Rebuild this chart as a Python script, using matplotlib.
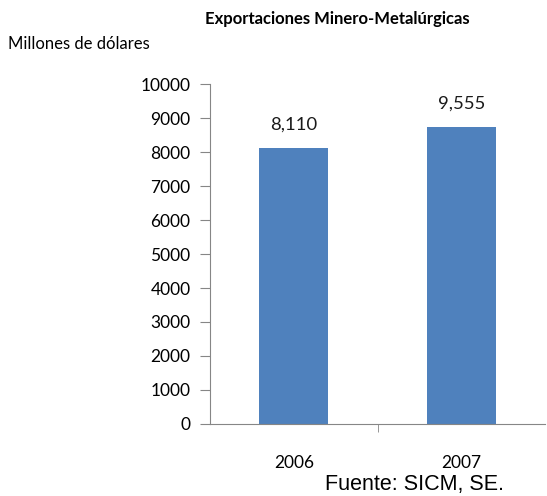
import matplotlib
matplotlib.use("Agg")
import matplotlib.pyplot as plt
from matplotlib.ticker import FixedLocator, NullFormatter

categories = ["2006", "2007"]
bar_values = [8118, 8735]
value_labels = ["8,110", "9,555"]
yticks = [0, 1000, 2000, 3000, 4000, 5000, 6000, 7000, 8000, 9000, 10000]

W, H = 547, 496
fig = plt.figure(figsize=(W/100, H/100), dpi=100)
ax = fig.add_axes([210/W, 1-424/H, (545-210)/W, (424-84)/H])

font = "Lato"
x = list(range(len(categories)))
ax.bar(x, bar_values, width=0.41, color="#4F81BD", zorder=2)
for xi, v, lab in zip(x, bar_values, value_labels):
    ax.text(xi, v + 450, lab, ha="center", va="bottom", fontsize=13.3, family=font, color="#1a1a1a")

ax.set_xlim(-0.5, 1.5)
ax.set_ylim(0, 10000)
ax.set_yticks(yticks)
ax.set_yticklabels([str(t) for t in yticks], family=font, fontsize=12.5)
ax.set_xticks(x)
ax.set_xticklabels(categories, family=font, fontsize=12.5)
ax.tick_params(axis="x", length=0, pad=22)
ax.xaxis.set_minor_locator(FixedLocator([0.5]))
ax.xaxis.set_minor_formatter(NullFormatter())
ax.tick_params(axis="x", which="minor", length=6, color="#868686")
ax.tick_params(axis="y", length=7, color="#868686", pad=7)
for s in ["top", "right"]:
    ax.spines[s].set_visible(False)
for s in ["left", "bottom"]:
    ax.spines[s].set_color("#868686")

fig.text(337/W, 1-19/H, "Exportaciones Minero-Metalúrgicas", ha="center", va="center",
         fontsize=12, fontweight="bold", family=font)
fig.text(8/W, 1-44/H, "Millones de dólares", ha="left", va="center", fontsize=12, family=font)
fig.text(325/W, 1-490/H, "Fuente: SICM, SE.", ha="left", va="baseline", fontsize=15.5,
         family="Liberation Sans")

fig.savefig("out.png", dpi=100)
